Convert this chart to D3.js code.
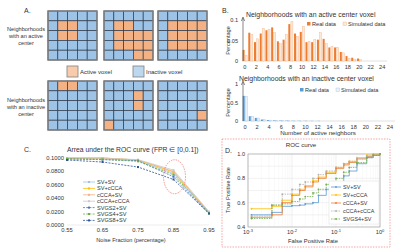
<!DOCTYPE html>
<html>
<head>
<meta charset="utf-8">
<script src="https://cdn.jsdelivr.net/npm/d3@7"></script>
<style>
  body { margin: 0; background: #fff; }
  text { font-family: 'Liberation Sans', Arial, sans-serif; fill: #333; }
</style>
</head>
<body>
<script>
// ---- data ----
// panel A: 5x5 neighborhoods, '1' = active voxel
const activeGrids = [
  ['00000', '01100', '01100', '00000', '00000'],
  ['00000', '01100', '01111', '01111', '00011'],
  ['00000', '01111', '01111', '01111', '00000']
]
const inactiveGrids = [
  ['01100', '00000', '00000', '00000', '00000'],
  ['00000', '00010', '00010', '00000', '10000'],
  ['00000', '00000', '00000', '00001', '00000']
]

// panel B: distribution of number of active neighbors
const neighbors = d3.range(0, 25)
const activeReal = [0.027, 0.069, 0.046, 0.067, 0.075, 0.082, 0.048, 0.052, 0.090, 0.067, 0.071, 0.046, 0.046, 0.052, 0.054, 0.033, 0.033, 0.022, 0.012, 0.008, 0.006, 0, 0, 0, 0]
const activeSim = [0.013, 0.064, 0.054, 0.079, 0.077, 0.069, 0.042, 0.064, 0.096, 0.060, 0.085, 0.047, 0.052, 0.069, 0.042, 0.035, 0.033, 0.020, 0.006, 0.004, 0.003, 0, 0, 0, 0]
const inactiveReal = [0.68, 0.13, 0.085, 0.04, 0.025, 0.015, 0.01, 0.008, 0.006, 0.005, 0.004, 0.003, 0.002, 0, 0, 0, 0, 0, 0, 0, 0, 0, 0, 0, 0]
const inactiveSim = [0.67, 0.12, 0.08, 0.04, 0.024, 0.014, 0.01, 0.007, 0.005, 0.004, 0.003, 0.002, 0.002, 0, 0, 0, 0, 0, 0, 0, 0, 0, 0, 0, 0]
const bTicks = d3.range(0, 25, 2)

// panel C: area under ROC curve vs noise fraction
const noiseFractions = [0.55, 0.65, 0.75, 0.85, 0.95]
const aucNames = ['SV+SV', 'SV+cCCA', 'cCCA+SV', 'cCCA+cCCA', 'SVGS2+SV', 'SVGS4+SV', 'SVGS8+SV']
const aucColors = ['#9dc3e6', '#ffc000', '#f4b183', '#c9c9c9', '#4472c4', '#70ad47', '#2f5597']
const aucDashed = [false, false, false, false, true, true, true]
const aucValues = [
  [0.0990, 0.0990, 0.0960, 0.0770, 0.0180],
  [0.1000, 0.1000, 0.0970, 0.0790, 0.0190],
  [0.1000, 0.1000, 0.0970, 0.0800, 0.0190],
  [0.1000, 0.1000, 0.0975, 0.0820, 0.0200],
  [0.0985, 0.0975, 0.0960, 0.0720, 0.0175],
  [0.0990, 0.0980, 0.0950, 0.0750, 0.0180],
  [0.0970, 0.0940, 0.0865, 0.0680, 0.0170]
]
const aucTicks = [0, 0.02, 0.04, 0.06, 0.08, 0.1]

// panel D: ROC curves
const rocFpr = [0.0012, 0.0035, 0.006, 0.01, 0.015, 0.02, 0.03, 0.04, 0.06, 0.1, 0.15, 0.2, 0.3, 0.5, 0.7, 1]
const rocNames = ['SV+SV', 'SV+cCCA', 'cCCA+SV', 'cCCA+cCCA', 'SVGS4+SV']
const rocColors = ['#5b9bd5', '#ffc000', '#ed7d31', '#b0b0b0', '#70ad47']
const rocDashed = [false, false, false, true, true]
const rocTpr = [
  [0.50, 0.52, 0.57, 0.575, 0.58, 0.59, 0.60, 0.66, 0.71, 0.77, 0.82, 0.86, 0.92, 0.97, 0.99, 1.0],
  [0.55, 0.57, 0.62, 0.67, 0.71, 0.74, 0.78, 0.81, 0.85, 0.89, 0.92, 0.94, 0.97, 0.99, 1.0, 1.0],
  [0.48, 0.50, 0.60, 0.66, 0.70, 0.73, 0.77, 0.80, 0.84, 0.88, 0.91, 0.93, 0.96, 0.98, 0.99, 1.0],
  [0.49, 0.58, 0.67, 0.71, 0.75, 0.77, 0.80, 0.83, 0.86, 0.89, 0.92, 0.94, 0.96, 0.98, 0.99, 1.0],
  [0.47, 0.58, 0.59, 0.61, 0.63, 0.65, 0.68, 0.71, 0.75, 0.80, 0.85, 0.89, 0.93, 0.97, 0.99, 1.0]
]
const rocYTicks = [0.4, 0.6, 0.8, 1.0]
const rocXTicks = [0.001, 0.01, 0.1, 1]

const svg = d3.select('body').append('svg')
  .attr('width', 400)
  .attr('height', 249)

// ================= panel A =================
const gA = svg.append('g')
gA.append('text').attr('x', 24).attr('y', 13).attr('font-size', 7).text('A.')

const cellBand = d3.scaleBand().domain(d3.range(5)).range([0, 49])
const gridXs = [48, 104, 158]

function drawGrid (grid, x0, y0) {
  const g = gA.append('g').attr('transform', `translate(${x0},${y0})`)
  const cells = []
  grid.forEach((row, r) => row.split('').forEach((c, k) => cells.push({ r, k, on: c === '1' })))
  g.selectAll('rect.cell')
    .data(cells)
    .join('rect')
    .attr('class', 'cell')
    .attr('x', d => cellBand(d.k))
    .attr('y', d => cellBand(d.r))
    .attr('width', cellBand.bandwidth())
    .attr('height', cellBand.bandwidth())
    .attr('fill', d => d.on ? '#f4b183' : '#9dc3e6')
    .attr('stroke', '#2f3b4c')
    .attr('stroke-width', 0.7)
  g.append('rect')
    .attr('width', 49).attr('height', 49)
    .attr('fill', 'none')
    .attr('stroke', '#7f7f7f')
    .attr('stroke-width', 1.4)
}
activeGrids.forEach((grid, i) => drawGrid(grid, gridXs[i], 11))
inactiveGrids.forEach((grid, i) => drawGrid(grid, gridXs[i], 81))

const aLabels = [
  { y: 31, lines: ['Neighborhoods', 'with an active', 'center'] },
  { y: 102, lines: ['Neighborhoods', 'with an inactive', 'center'] }
]
aLabels.forEach(l => {
  gA.append('text')
    .attr('text-anchor', 'middle')
    .attr('font-size', 5.6)
    .selectAll('tspan')
    .data(l.lines)
    .join('tspan')
    .attr('x', 26)
    .attr('y', (d, i) => l.y + i * 7)
    .text(d => d)
})

// legend
const aLegend = [
  { x: 67, fill: '#f8cbad', label: 'Active voxel' },
  { x: 133, fill: '#bdd7ee', label: 'Inactive voxel' }
]
aLegend.forEach(d => {
  gA.append('rect').attr('x', d.x).attr('y', 66).attr('width', 11).attr('height', 11)
    .attr('fill', d.fill).attr('stroke', '#7f7f7f').attr('stroke-width', 0.8)
  gA.append('text').attr('x', d.x + 13).attr('y', 74).attr('font-size', 6).text(d.label)
})

// ================= panel B =================
const gB = svg.append('g')
gB.append('text').attr('x', 222).attr('y', 13).attr('font-size', 7).text('B.')

function drawHist (opt) {
  const x = d3.scaleBand().domain(neighbors).range(opt.xRange)
  const y = d3.scaleLinear().domain(opt.yDomain).range(opt.yRange)
  const g = gB.append('g')
  const c = x.step() / 2

  g.append('text').attr('x', opt.titleX).attr('y', opt.titleY).attr('font-size', 6.9).attr('fill', '#222')
    .text(opt.title)

  // baseline
  g.append('line').attr('x1', opt.xRange[0]).attr('x2', opt.xRange[1] + 2)
    .attr('y1', y(0)).attr('y2', y(0)).attr('stroke', '#d9d9d9').attr('stroke-width', 0.8)

  g.selectAll('rect.real')
    .data(neighbors)
    .join('rect')
    .attr('class', 'real')
    .attr('x', d => x(d) + c - 2.3)
    .attr('y', d => y(opt.real[d]))
    .attr('width', 2)
    .attr('height', d => y(0) - y(opt.real[d]))
    .attr('fill', opt.realColor)
  g.selectAll('rect.sim')
    .data(neighbors)
    .join('rect')
    .attr('class', 'sim')
    .attr('x', d => x(d) + c + 0.3)
    .attr('y', d => y(opt.sim[d]))
    .attr('width', 2)
    .attr('height', d => y(0) - y(opt.sim[d]))
    .attr('fill', opt.simFill)
    .attr('stroke', opt.simStroke)
    .attr('stroke-width', 0.4)

  // y axis with arrow
  const ax = opt.xRange[0] + 1
  g.append('line').attr('x1', ax).attr('x2', ax).attr('y1', y(0)).attr('y2', opt.yRange[1] - 2)
    .attr('stroke', '#555').attr('stroke-width', 0.7)
  g.append('path')
    .attr('d', `M${ax - 1.6},${opt.yRange[1] + 1}L${ax},${opt.yRange[1] - 3}L${ax + 1.6},${opt.yRange[1] + 1}`)
    .attr('fill', 'none').attr('stroke', '#555').attr('stroke-width', 0.7)

  g.selectAll('text.ytick')
    .data(opt.yTicks)
    .join('text')
    .attr('class', 'ytick')
    .attr('x', ax - 5)
    .attr('y', d => y(d[0]) + 2)
    .attr('text-anchor', 'end')
    .attr('font-size', 5.6)
    .text(d => d[1])

  g.selectAll('text.xtick')
    .data(bTicks)
    .join('text')
    .attr('class', 'xtick')
    .attr('x', d => x(d) + c)
    .attr('y', y(0) + 8)
    .attr('text-anchor', 'middle')
    .attr('font-size', 5.6)
    .text(d => d)

  g.append('text').attr('x', 230).attr('y', (opt.yRange[0] + opt.yRange[1]) / 2)
    .attr('transform', `rotate(-90,230,${(opt.yRange[0] + opt.yRange[1]) / 2})`)
    .attr('text-anchor', 'middle').attr('font-size', 5.6).text('Percentage')

  // legend
  g.append('rect').attr('x', opt.legX).attr('y', opt.legY - 4).attr('width', 3.5).attr('height', 3.5)
    .attr('fill', opt.realColor)
  g.append('text').attr('x', opt.legX + 5).attr('y', opt.legY).attr('font-size', 5.6).text('Real data')
  g.append('rect').attr('x', opt.legX + 36).attr('y', opt.legY - 4).attr('width', 3.5).attr('height', 3.5)
    .attr('fill', opt.simFill).attr('stroke', opt.simStroke).attr('stroke-width', 0.4)
  g.append('text').attr('x', opt.legX + 41).attr('y', opt.legY).attr('font-size', 5.6).text('Simulated data')
}

drawHist({
  real: activeReal,
  sim: activeSim,
  xRange: [242, 385],
  yDomain: [0, 0.1],
  yRange: [61, 20],
  yTicks: [[0, '0'], [0.05, '0.05'], [0.1, '0.1']],
  title: 'Neighborhoods with an active center voxel',
  titleX: 246,
  titleY: 17,
  realColor: '#ed7d31',
  simFill: '#fde9d9',
  simStroke: '#f4b183',
  legX: 307,
  legY: 26
})
drawHist({
  real: inactiveReal,
  sim: inactiveSim,
  xRange: [242, 393],
  yDomain: [0, 1],
  yRange: [121, 84],
  yTicks: [[0, '0'], [0.5, '0.5'], [1, '1']],
  title: 'Neighborhoods with an inactive center voxel',
  titleX: 239,
  titleY: 81,
  realColor: '#5b9bd5',
  simFill: '#eaf2fb',
  simStroke: '#9dc3e6',
  legX: 300,
  legY: 92
})
gB.append('text').attr('x', 318).attr('y', 135).attr('text-anchor', 'middle').attr('font-size', 6.2)
  .text('Number of active neighbors')

// ================= panel C =================
const gC = svg.append('g')
gC.append('text').attr('x', 24).attr('y', 152).attr('font-size', 7).text('C.')
gC.append('text').attr('x', 67).attr('y', 152).attr('font-size', 6.8).attr('fill', '#222')
  .text('Arrea under the ROC curve (FPR \u2208 [0,0.1])')

const xC = d3.scaleLinear().domain([0.55, 0.95]).range([67, 209])
const yC = d3.scaleLinear().domain([0, 0.1]).range([225, 158])

gC.append('line').attr('x1', 67).attr('x2', 209).attr('y1', yC(0)).attr('y2', yC(0))
  .attr('stroke', '#e0e0e0').attr('stroke-width', 0.6)

gC.selectAll('text.ytick')
  .data(aucTicks)
  .join('text')
  .attr('class', 'ytick')
  .attr('x', 64)
  .attr('y', d => yC(d) + 2)
  .attr('text-anchor', 'end')
  .attr('font-size', 5.8)
  .text(d => d.toFixed(4))
gC.selectAll('text.xtick')
  .data(noiseFractions)
  .join('text')
  .attr('class', 'xtick')
  .attr('x', d => xC(d))
  .attr('y', 232)
  .attr('text-anchor', 'middle')
  .attr('font-size', 5.8)
  .text(d => d.toFixed(2))
gC.append('text').attr('x', 131).attr('y', 242).attr('text-anchor', 'middle').attr('font-size', 5.6)
  .text('Noise Fraction (percentage)')

const lineC = d3.line().x((d, i) => xC(noiseFractions[i])).y(d => yC(d))
aucValues.forEach((vals, s) => {
  gC.append('path')
    .attr('d', lineC(vals))
    .attr('fill', 'none')
    .attr('stroke', aucColors[s])
    .attr('stroke-width', 0.8)
    .attr('stroke-dasharray', aucDashed[s] ? '2,1.2' : null)
  gC.selectAll(null)
    .data(vals)
    .join('rect')
    .attr('x', (d, i) => xC(noiseFractions[i]) - 1)
    .attr('y', d => yC(d) - 1)
    .attr('width', 2)
    .attr('height', 2)
    .attr('fill', aucColors[s])
})

// highlight ellipse
gC.append('ellipse').attr('cx', xC(0.85) + 1).attr('cy', yC(0.072)).attr('rx', 11).attr('ry', 17)
  .attr('fill', 'none').attr('stroke', '#f05050').attr('stroke-width', 0.6).attr('stroke-dasharray', '1.5,1')

// legend
aucNames.forEach((name, i) => {
  const ly = 182 + i * 6.4
  gC.append('line').attr('x1', 83).attr('x2', 95).attr('y1', ly).attr('y2', ly)
    .attr('stroke', aucColors[i]).attr('stroke-width', 0.8)
    .attr('stroke-dasharray', aucDashed[i] ? '2,1.2' : null)
  gC.append('rect').attr('x', 88).attr('y', ly - 1).attr('width', 2).attr('height', 2).attr('fill', aucColors[i])
  gC.append('text').attr('x', 97).attr('y', ly + 2).attr('font-size', 5.6).text(name)
})

// ================= panel D =================
const gD = svg.append('g')
gD.append('rect').attr('x', 222).attr('y', 139).attr('width', 168).attr('height', 108)
  .attr('fill', 'none').attr('stroke', '#f08080').attr('stroke-width', 0.7).attr('stroke-dasharray', '1.5,1.2')
gD.append('text').attr('x', 225).attr('y', 153).attr('font-size', 7).text('D.')
gD.append('text').attr('x', 301).attr('y', 147).attr('text-anchor', 'middle').attr('font-size', 6.2)
  .text('ROC curve')

const xD = d3.scaleLog().domain([0.001, 1]).range([248, 380])
const yD = d3.scaleLinear().domain([0.4, 1]).range([227, 154])

// grid
const minorX = d3.range(-3, 0).flatMap(e => d3.range(2, 10).map(m => m * Math.pow(10, e)))
gD.selectAll('line.mgx')
  .data(minorX)
  .join('line')
  .attr('class', 'mgx')
  .attr('x1', d => xD(d)).attr('x2', d => xD(d))
  .attr('y1', 154).attr('y2', 227)
  .attr('stroke', '#f0f0f0').attr('stroke-width', 0.4)
gD.selectAll('line.gx')
  .data(rocXTicks)
  .join('line')
  .attr('class', 'gx')
  .attr('x1', d => xD(d)).attr('x2', d => xD(d))
  .attr('y1', 154).attr('y2', 227)
  .attr('stroke', '#dcdcdc').attr('stroke-width', 0.5)
gD.selectAll('line.gy')
  .data(d3.range(0.4, 1.01, 0.1))
  .join('line')
  .attr('class', 'gy')
  .attr('x1', 248).attr('x2', 380)
  .attr('y1', d => yD(d)).attr('y2', d => yD(d))
  .attr('stroke', '#e4e4e4').attr('stroke-width', 0.5)
gD.append('rect').attr('x', 248).attr('y', 154).attr('width', 132).attr('height', 73)
  .attr('fill', 'none').attr('stroke', '#9a9a9a').attr('stroke-width', 0.6)

gD.selectAll('text.ytick')
  .data(rocYTicks)
  .join('text')
  .attr('class', 'ytick')
  .attr('x', 245)
  .attr('y', d => yD(d) + 2)
  .attr('text-anchor', 'end')
  .attr('font-size', 5.6)
  .text(d => d.toFixed(1))
const xTickText = gD.selectAll('text.xtick')
  .data(rocXTicks)
  .join('text')
  .attr('class', 'xtick')
  .attr('x', d => xD(d))
  .attr('y', 234)
  .attr('text-anchor', 'middle')
  .attr('font-size', 5.6)
xTickText.append('tspan').text('10')
xTickText.append('tspan').attr('dy', -2.5).attr('font-size', 4).text(d => Math.round(Math.log10(d)))

gD.append('text').attr('x', 313).attr('y', 243).attr('text-anchor', 'middle').attr('font-size', 5.8)
  .text('False Positive Rate')
gD.append('text').attr('x', 230).attr('y', 190)
  .attr('transform', 'rotate(-90,230,190)')
  .attr('text-anchor', 'middle').attr('font-size', 5.6).text('True Positive Rate')

const lineD = d3.line()
  .x((d, i) => xD(rocFpr[i]))
  .y(d => yD(d))
  .curve(d3.curveStepAfter)
rocTpr.forEach((vals, s) => {
  gD.append('path')
    .attr('d', lineD(vals))
    .attr('fill', 'none')
    .attr('stroke', rocColors[s])
    .attr('stroke-width', 0.8)
    .attr('stroke-dasharray', rocDashed[s] ? '1.5,1' : null)
  gD.selectAll(null)
    .data(vals)
    .join('circle')
    .attr('cx', (d, i) => xD(rocFpr[i]))
    .attr('cy', d => yD(d))
    .attr('r', 0.9)
    .attr('fill', rocColors[s])
})

// legend
gD.append('rect').attr('x', 329).attr('y', 181).attr('width', 50).attr('height', 43)
  .attr('fill', '#fff').attr('stroke', '#e0e0e0').attr('stroke-width', 0.5)
rocNames.forEach((name, i) => {
  const ly = 187 + i * 8
  gD.append('line').attr('x1', 331).attr('x2', 341).attr('y1', ly).attr('y2', ly)
    .attr('stroke', rocColors[i]).attr('stroke-width', 0.8)
    .attr('stroke-dasharray', rocDashed[i] ? '1.5,1' : null)
  gD.append('circle').attr('cx', 336).attr('cy', ly).attr('r', 0.9).attr('fill', rocColors[i])
  gD.append('text').attr('x', 343).attr('y', ly + 2).attr('font-size', 5.4).text(name)
})
</script>
</body>
</html>
